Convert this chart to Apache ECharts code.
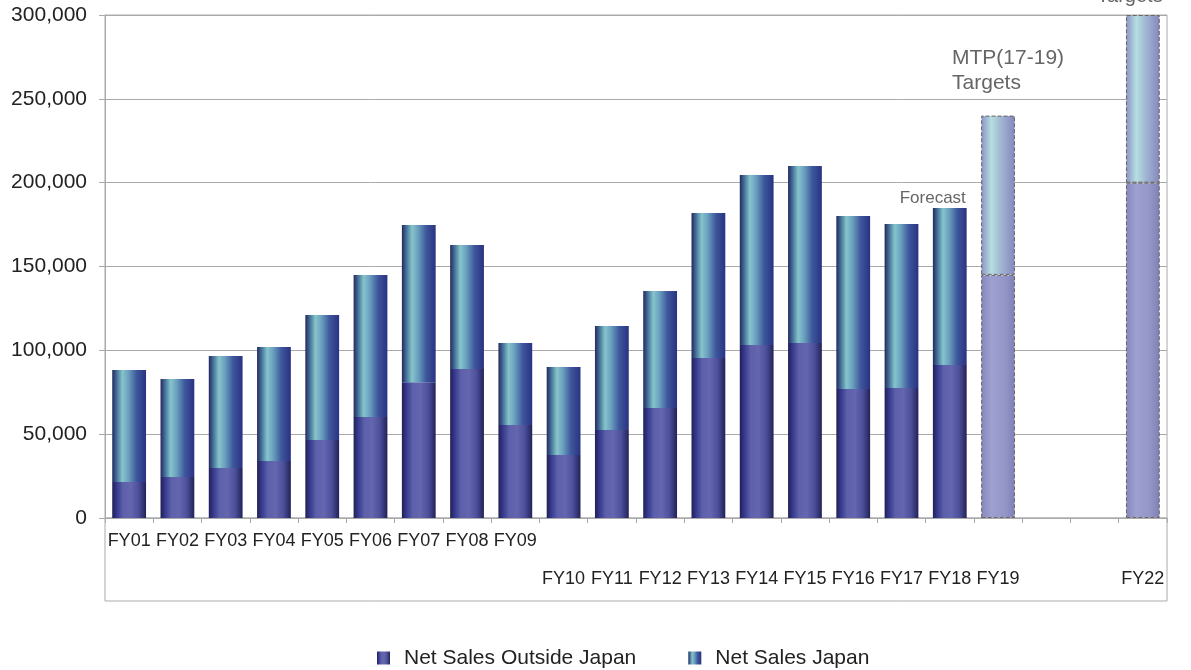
<!DOCTYPE html>
<html>
<head>
<meta charset="utf-8">
<script src="https://cdn.jsdelivr.net/npm/echarts@6/dist/echarts.min.js"></script>
<style>html,body{margin:0;padding:0;background:#fff}#c{width:1191px;height:670px}</style>
</head>
<body>
<div id="c"></div>
<script>
const categories = ['FY01','FY02','FY03','FY04','FY05','FY06','FY07','FY08','FY09','FY10','FY11','FY12','FY13','FY14','FY15','FY16','FY17','FY18','FY19','FY20','FY21','FY22'];
const tickLabels = ['FY01','FY02','FY03','FY04','FY05','FY06','FY07','FY08','FY09','FY10','FY11','FY12','FY13','FY14','FY15','FY16','FY17','FY18','FY19','','','FY22'];
const outsideJapan = [21500, 24500, 29800, 34000, 46500, 60200, 81000, 88900, 55500, 37600, 52500, 65600, 95400, 103200, 104400, 76900, 77500, 91200, 145000, null, null, 200000];
const japan = [66800, 58400, 66800, 68000, 74500, 84800, 93700, 73900, 48900, 52400, 62000, 69800, 86500, 101400, 105500, 103200, 97800, 93700, 95000, null, null, 100000];
const targetIndexes = [18, 21];
const forecastIndex = 17;
const yTicks = [0, 50000, 100000, 150000, 200000, 250000, 300000];

const FONT = '"Liberation Sans", Arial, sans-serif';
function grad(stops){ return {type:'linear', x:0, y:0, x2:1, y2:0, colorStops: stops.map(s=>({offset:s[0], color:s[1]}))}; }
const outsideGrad = grad([[0,'#1f2052'],[0.12,'#34368a'],[0.32,'#5d60aa'],[0.55,'#6467ae'],[0.78,'#4c4f9a'],[1,'#212258']]);
const japanGrad = grad([[0,'#25285e'],[0.12,'#3f6a93'],[0.3,'#86c4cc'],[0.48,'#6a9fbe'],[0.72,'#3d579c'],[1,'#2a3282']]);
const outsideTargetGrad = grad([[0,'#8587bd'],[0.3,'#9ea0d0'],[0.7,'#9496c9'],[1,'#7f81b6']]);
const japanTargetGrad = grad([[0,'#8c90c5'],[0.3,'#b5dfe0'],[0.6,'#a0b4d2'],[1,'#8587bd']]);

function buildData(values, isJapan){
  return values.map((v,i)=>{
    if (v === null) return '-';
    if (targetIndexes.includes(i)) {
      const item = {value:v, itemStyle:{color: isJapan ? japanTargetGrad : outsideTargetGrad, borderColor:'#666', borderWidth:1, borderType:'dashed'}};
      if (isJapan && i === 18) item.label = {show:true, position:'top', distance:20, formatter:'MTP(17-19)\nTargets', align:'left', offset:[-46,0], color:'#666', fontSize:21, lineHeight:25, fontFamily:FONT};
      if (isJapan && i === 21) item.label = {show:true, position:'top', distance:6, formatter:'Targets', color:'#666', fontSize:20, lineHeight:25, offset:[-13,0], fontFamily:FONT};
      return item;
    }
    const item = {value:v};
    if (isJapan && i === forecastIndex) item.label = {show:true, position:'top', distance:1, formatter:'Forecast', color:'#666', fontSize:17, offset:[-17,0], fontFamily:FONT};
    return item;
  });
}

const chart = echarts.init(document.getElementById('c'), null, {renderer:'canvas'});
chart.setOption({
  animation:false,
  textStyle:{fontFamily:FONT},
  grid:[
    {left:105, right:24, top:15, bottom:152, show:true, borderColor:'#aaa', borderWidth:1},
    {left:105, right:24, top:518, bottom:69, show:true, borderColor:'#aaa', borderWidth:1}
  ],
  legend:{
    top:642, left:372, itemWidth:13, itemHeight:13, itemGap:52, icon:'rect',
    textStyle:{fontSize:21, lineHeight:22, color:'#222', fontFamily:FONT, padding:[0,0,0,9]},
    data:['Net Sales Outside Japan','Net Sales Japan']
  },
  xAxis:[
    {type:'category', gridIndex:0, data:categories, boundaryGap:true,
     axisLine:{lineStyle:{color:'#aaa'}},
     axisTick:{show:true, interval:0, length:5, lineStyle:{color:'#aaa'}},
     axisLabel:{interval:0, margin:4, color:'#222', fontSize:18, lineHeight:38, fontFamily:FONT,
       formatter:(v,i)=> i>=9 ? '\n'+tickLabels[i] : tickLabels[i]}},
    {type:'category', gridIndex:1, data:categories, show:false}
  ],
  yAxis:[
    {type:'value', gridIndex:0, min:0, max:300000, interval:50000,
     axisLine:{show:true, lineStyle:{color:'#aaa'}},
     axisTick:{show:true, length:6, lineStyle:{color:'#aaa'}},
     splitLine:{lineStyle:{color:'#aaa'}},
     axisLabel:{margin:18, color:'#222', fontSize:21, fontFamily:FONT,
       formatter:v=> yTicks.includes(v) ? v.toLocaleString('en-US') : ''}},
    {type:'value', gridIndex:1, show:false}
  ],
  series:[
    {name:'Net Sales Outside Japan', type:'bar', stack:'s', barWidth:'70%', data:buildData(outsideJapan,false), itemStyle:{color:outsideGrad}},
    {name:'Net Sales Japan', type:'bar', stack:'s', barWidth:'70%', data:buildData(japan,true), itemStyle:{color:japanGrad}}
  ]
});
</script>
</body>
</html>
